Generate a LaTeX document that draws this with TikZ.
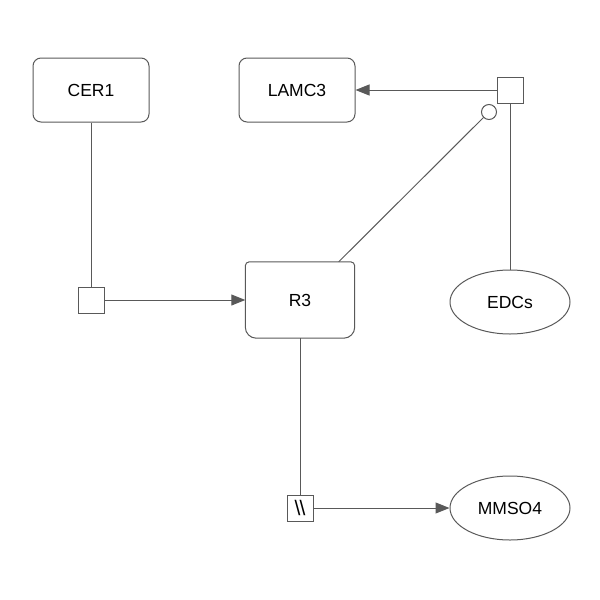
\documentclass[tikz,border=0pt]{standalone}
\usepackage{fontspec}
\setmainfont{Liberation Sans}
\usetikzlibrary{arrows.meta}
\usetikzlibrary{shapes.geometric}
\tikzset{macro/.style={draw=black!65,line width=1pt,rounded corners=8pt,minimum width=116pt,minimum height=64pt,font=\fontsize{17.5}{20}\selectfont},
 simple/.style={draw=black!65,line width=1pt,ellipse,minimum width=120pt,minimum height=64pt,font=\fontsize{17.5}{20}\selectfont},
 proc/.style={draw=black!65,line width=1pt,minimum size=26pt,inner sep=0pt},
 link/.style={draw=black!65,line width=1pt},
 prod/.style={link,-{Triangle[length=14pt,width=11pt]},color=black!65},
 }

\begin{document}
\begin{tikzpicture}[x=1pt,y=-1pt]
        \useasboundingbox (0,0) rectangle (600,600);
        \node[macro] (cer) at (91, 90) {CER1};
        \node[macro] (lamc) at (297, 90) {LAMC3};
        \node[proc] (p1) at (510, 90) {};
        \node[draw=black!65,line width=1pt,circle,fill=white,minimum size=15pt,inner sep=0pt] (mod) at (489, 112) {};
        \node[simple] (edc) at (510, 302) {EDCs};
        \node[proc] (p2) at (91, 300) {};
        \node[minimum width=109pt,minimum height=76pt,font=\fontsize{17.5}{20}\selectfont] (r3) at (300, 300) {R3};
        \draw[link] (r3.north) [rounded corners=4pt] -- (r3.north west) [rounded corners=11pt] -- (r3.south west) -- (r3.south east) [rounded corners=4pt] -- (r3.north east) -- (r3.north);
        \node[proc] (p3) at (300, 508) {\fontsize{21}{21}\selectfont\textbackslash\kern-1pt\textbackslash};
        \node[simple] (mmso) at (510, 508) {MMSO4};
        \draw[prod] (p1) -- (lamc);
        \draw[link] (p1) -- (edc);
        \draw[link] (r3.north east) ++(-16,0) -- (mod);
        \draw[link] (cer) -- (p2);
        \draw[prod] (p2) -- (r3.west);
        \draw[link] (r3.south) -- (p3);
        \draw[prod] (p3) -- (mmso);
    \end{tikzpicture}
\end{document}
